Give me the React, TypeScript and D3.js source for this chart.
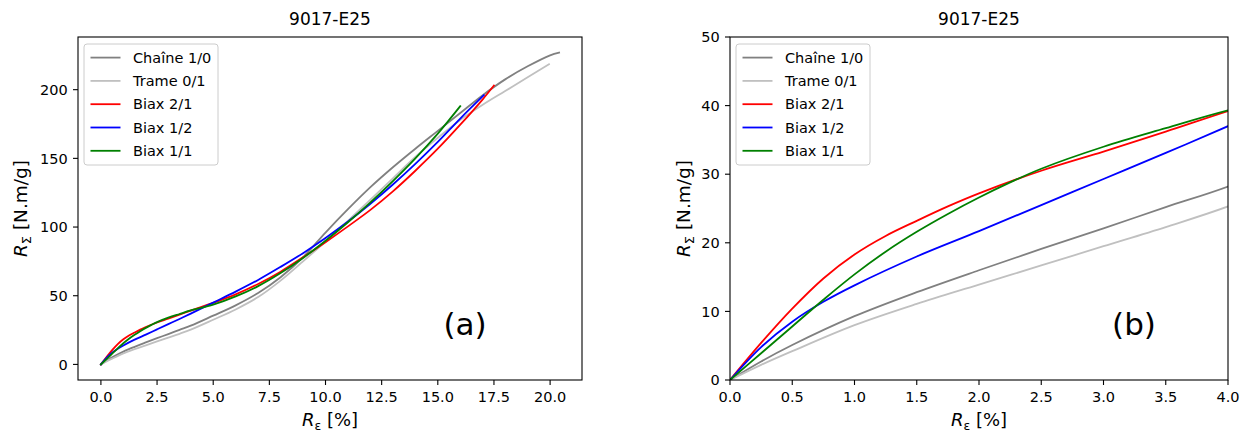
import React from 'react';
import * as d3 from 'd3';

// ---- Data (strain %, specific strength N.m/g) ----
const chaineX = [0, 0.25, 0.5, 1, 1.5, 2, 2.5, 3, 3.5, 4, 5, 6, 7, 8, 9, 10, 11, 12, 13, 14, 15, 16, 17, 18, 19, 20, 20.4];
const chaineY = [0, 2.7, 5.1, 9.3, 12.8, 16.0, 19.1, 22.1, 25.2, 28.2, 35.5, 43, 52, 63.5, 78, 96, 113, 129, 143.5, 157, 170, 183, 196, 207.5, 217, 225, 227];

const trameX = [0, 0.25, 0.5, 1, 1.5, 2, 2.5, 3, 3.5, 4, 5, 6, 7, 8, 9, 10, 11, 12, 13, 14, 15, 16, 17, 18, 19, 19.95];
const trameY = [0, 2.2, 4.2, 8.0, 11.1, 13.9, 16.7, 19.5, 22.3, 25.3, 32.5, 40, 49, 61, 75, 89.5, 104.5, 120, 135.5, 151, 165, 178, 189, 199, 209, 218.5];

const biax21X = [0, 0.25, 0.5, 0.75, 1, 1.25, 1.5, 1.75, 2, 2.5, 3, 3.5, 4, 5, 6, 7, 8, 9, 10, 11, 12, 13, 14, 15, 16, 17, 17.5];
const biax21Y = [0, 5.4, 10.4, 14.8, 18.3, 21.0, 23.2, 25.3, 27.2, 30.5, 33.3, 36.2, 39.2, 44.8, 51, 58.5, 67.5, 78, 89, 100.5, 112.5, 126, 141, 157, 174.5, 193, 203];

const biax12X = [0, 0.25, 0.5, 0.75, 1, 1.5, 2, 2.5, 3, 3.5, 4, 5, 6, 7, 8, 9, 10, 11, 12, 13, 14, 15, 16, 17.05];
const biax12Y = [0, 4.8, 8.5, 11.4, 13.8, 18.0, 21.7, 25.5, 29.3, 33.1, 37.0, 45, 53, 61.5, 71, 81, 92, 104, 117, 131, 146, 162, 179, 196];

const biax11X = [0, 0.25, 0.5, 0.75, 1, 1.25, 1.5, 1.75, 2, 2.25, 2.5, 3, 3.5, 4, 5, 6, 7, 8, 9, 10, 11, 12, 13, 14, 15, 16];
const biax11Y = [0, 3.9, 7.8, 11.7, 15.4, 18.7, 21.6, 24.2, 26.6, 28.8, 30.8, 34.0, 36.7, 39.3, 43.5, 49.5, 57, 66.5, 77.5, 90, 103.5, 118, 133.5, 150, 168, 188];

const seriesNames = ['Chaîne 1/0', 'Trame 0/1', 'Biax 2/1', 'Biax 1/2', 'Biax 1/1'];
const seriesColors = ['#808080', '#c0c0c0', '#ff0000', '#0000ff', '#008000'];
const seriesXs = [chaineX, trameX, biax21X, biax12X, biax11X];
const seriesYs = [chaineY, trameY, biax21Y, biax12Y, biax11Y];

const leftXTicks = [0, 2.5, 5, 7.5, 10, 12.5, 15, 17.5, 20];
const leftYTicks = [0, 50, 100, 150, 200];
const rightXTicks = [0, 0.5, 1, 1.5, 2, 2.5, 3, 3.5, 4];
const rightYTicks = [0, 10, 20, 30, 40, 50];

const titleText = '9017-E25';
const FONT = '"DejaVu Sans", sans-serif';

type Box = { x0: number; x1: number; y0: number; y1: number };

function Panel(props: {
  id: string;
  box: Box;
  xDomain: [number, number];
  yDomain: [number, number];
  xTicks: number[];
  yTicks: number[];
  yFmt: (v: number) => string;
  tag: string;
  tagX: number;
  tagY: number;
  ylabelX: number;
}) {
  const { id, box, xDomain, yDomain, xTicks, yTicks, yFmt, tag, tagX, tagY, ylabelX } = props;
  const x = d3.scaleLinear().domain(xDomain).range([box.x0, box.x1]);
  const y = d3.scaleLinear().domain(yDomain).range([box.y1, box.y0]);
  const xFmt = d3.format('.1f');
  const tickLen = 5;
  const cx = (box.x0 + box.x1) / 2;
  const cy = (box.y0 + box.y1) / 2;

  const line = d3
    .line<[number, number]>()
    .x((d) => x(d[0]))
    .y((d) => y(d[1]))
    .curve(d3.curveCatmullRom.alpha(0.5));

  const lx = box.x0 + 6.5;
  const ly = box.y0 + 7;
  const rowPitch = 23.3;

  return (
    <g>
      <defs>
        <clipPath id={`clip-${id}`}>
          <rect x={box.x0} y={box.y0} width={box.x1 - box.x0} height={box.y1 - box.y0} />
        </clipPath>
      </defs>
      <g clipPath={`url(#clip-${id})`}>
        {seriesXs.map((xs, i) => {
          const pts: [number, number][] = xs.map((v, j) => [v, seriesYs[i][j]]);
          return (
            <path
              key={i}
              d={line(pts) || ''}
              fill="none"
              stroke={seriesColors[i]}
              strokeWidth={1.8}
              strokeLinejoin="round"
              strokeLinecap="square"
            />
          );
        })}
      </g>
      <rect
        x={box.x0}
        y={box.y0}
        width={box.x1 - box.x0}
        height={box.y1 - box.y0}
        fill="none"
        stroke="#000"
        strokeWidth={1.1}
      />
      {xTicks.map((t) => (
        <g key={`xt${t}`}>
          <line x1={x(t)} x2={x(t)} y1={box.y1} y2={box.y1 + tickLen} stroke="#000" strokeWidth={1.1} />
          <text x={x(t)} y={box.y1 + 22} textAnchor="middle" fontFamily={FONT} fontSize={14.5} fill="#000">
            {xFmt(t)}
          </text>
        </g>
      ))}
      {yTicks.map((t) => (
        <g key={`yt${t}`}>
          <line x1={box.x0 - tickLen} x2={box.x0} y1={y(t)} y2={y(t)} stroke="#000" strokeWidth={1.1} />
          <text
            x={box.x0 - 10.2}
            y={y(t)}
            dy="0.36em"
            textAnchor="end"
            fontFamily={FONT}
            fontSize={14.5}
            fill="#000"
          >
            {yFmt(t)}
          </text>
        </g>
      ))}
      <text x={cx} y={box.y0 - 12} textAnchor="middle" fontFamily={FONT} fontSize={17} fill="#000">
        {titleText}
      </text>
      <text x={cx} y={box.y1 + 46} textAnchor="middle" fontFamily={FONT} fontSize={18} fill="#000">
        <tspan fontStyle="italic">R</tspan>
        <tspan fontSize={12.5} dy={4}>ε</tspan>
        <tspan dy={-4}> [%]</tspan>
      </text>
      <text
        transform={`translate(${ylabelX},${cy}) rotate(-90)`}
        textAnchor="middle"
        fontFamily={FONT}
        fontSize={18.5}
        fill="#000"
      >
        <tspan fontStyle="italic">R</tspan>
        <tspan fontSize={13} dy={4}>Σ</tspan>
        <tspan dy={-4}> [N.m/g]</tspan>
      </text>
      <text x={tagX} y={tagY} textAnchor="middle" fontFamily={FONT} fontSize={31} fill="#000">
        {tag}
      </text>
      <rect
        x={box.x0 + 6}
        y={ly}
        width={134}
        height={121}
        rx={3}
        fill="#fff"
        fillOpacity={0.8}
        stroke="#cccccc"
        strokeWidth={1}
      />
      {seriesNames.map((name, i) => {
        const ry = ly + 13.6 + i * rowPitch;
        return (
          <g key={name}>
            <line x1={lx + 6} x2={lx + 36} y1={ry} y2={ry} stroke={seriesColors[i]} strokeWidth={1.8} />
            <text x={lx + 48.5} y={ry} dy="0.36em" fontFamily={FONT} fontSize={14.5} fill="#000">
              {name}
            </text>
          </g>
        );
      })}
    </g>
  );
}

export default function App() {
  const leftBox: Box = { x0: 78, x1: 582, y0: 37, y1: 380 };
  const rightBox: Box = { x0: 730, x1: 1228, y0: 37, y1: 380 };
  const allX = seriesXs.flat();
  const allY = seriesYs.flat();
  const xMax = d3.max(allX) as number;
  const yMax = d3.max(allY) as number;
  const leftXDomain: [number, number] = [-0.05 * xMax, xMax * 1.05];
  const leftYDomain: [number, number] = [-0.05 * yMax, yMax * 1.05];
  return (
    <svg
      width={1250}
      height={437}
      viewBox="0 0 1250 437"
      style={{ position: 'absolute', left: 0, top: 0, background: '#fff' }}
    >
      <rect x={0} y={0} width={1250} height={437} fill="#fff" />
      <Panel
        id="a"
        box={leftBox}
        xDomain={leftXDomain}
        yDomain={leftYDomain}
        xTicks={leftXTicks}
        yTicks={leftYTicks}
        yFmt={(v) => d3.format('d')(v)}
        tag="(a)"
        tagX={465}
        tagY={335}
        ylabelX={27}
      />
      <Panel
        id="b"
        box={rightBox}
        xDomain={[0, 4]}
        yDomain={[0, 50]}
        xTicks={rightXTicks}
        yTicks={rightYTicks}
        yFmt={(v) => d3.format('d')(v)}
        tag="(b)"
        tagX={1134}
        tagY={335}
        ylabelX={690}
      />
    </svg>
  );
}
